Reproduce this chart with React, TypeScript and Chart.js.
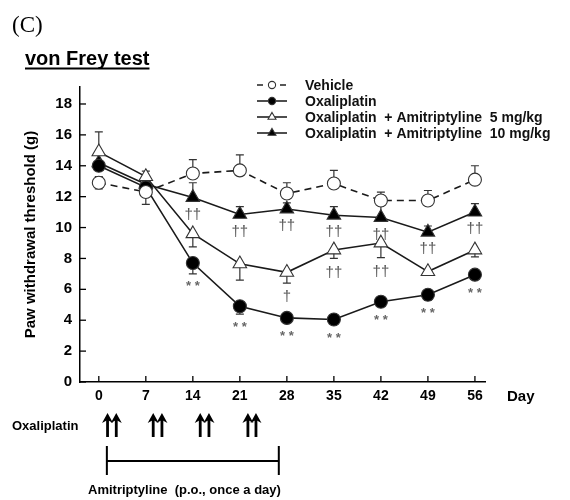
import React, { useEffect, useRef } from 'react';
import { Chart, registerables } from 'chart.js';

Chart.register(...registerables);

const days = [0, 7, 14, 21, 28, 35, 42, 49, 56];
const xTicks = [0, 7, 14, 21, 28, 35, 42, 49, 56];
const yTicks = [0, 2, 4, 6, 8, 10, 12, 14, 16, 18];

const vehicle = [12.9, 12.3, 13.5, 13.7, 12.2, 12.85, 11.75, 11.75, 13.1];
const vehicleErrUp = [0.4, 0, 0.9, 1.0, 0.7, 0.85, 0.55, 0.65, 0.9];
const vehicleErrDown = [0.4, 0.8, 0, 0, 0, 0, 0, 0, 0];

const oxali = [14.0, 12.6, 7.7, 4.9, 4.15, 4.05, 5.2, 5.65, 6.95];
const oxaliErrUp = [0, 0, 0, 0, 0, 0, 0, 0, 0];
const oxaliErrDown = [0.3, 0.3, 0.7, 0.5, 0.2, 0.2, 0.3, 0.35, 0.3];

const ami5 = [14.9, 13.3, 9.6, 7.65, 7.1, 8.55, 9.0, 7.15, 8.55];
const ami5ErrUp = [1.3, 0.35, 0, 0, 0, 0, 0, 0, 0];
const ami5ErrDown = [0, 0, 0.85, 1.05, 0.7, 0.55, 0.95, 0.25, 0.45];

const ami10 = [14.2, 12.8, 11.95, 10.85, 11.2, 10.8, 10.65, 9.7, 11.0];
const ami10ErrUp = [0, 0.3, 0.95, 0.5, 0.4, 0.55, 0.85, 0.4, 0.55];
const ami10ErrDown = [0, 0, 0, 0, 0, 0, 0, 0, 0];

const oxaliMarks = ['', '', '**', '**', '**', '**', '**', '**', '**'];
const ami5Marks = ['', '', '', '', '†', '††', '††', '', ''];
const ami10Marks = ['', '', '††', '††', '††', '††', '††', '††', '††'];

const legendLabels = [
  'Vehicle',
  'Oxaliplatin',
  'Oxaliplatin  + Amitriptyline  5 mg/kg',
  'Oxaliplatin  + Amitriptyline  10 mg/kg',
];

const oxaliDoseDays = [1.3, 2.6, 8.1, 9.4, 15.1, 16.4, 22.2, 23.4];
const amiPeriod = [1.2, 26.8];

const FONT = '"Liberation Sans", Arial, sans-serif';

const series = [
  { data: vehicle, up: vehicleErrUp, down: vehicleErrDown, style: 'circle', fill: '#fff', dash: [7, 5], marks: null as string[] | null },
  { data: oxali, up: oxaliErrUp, down: oxaliErrDown, style: 'circle', fill: '#000', dash: [] as number[], marks: oxaliMarks },
  { data: ami5, up: ami5ErrUp, down: ami5ErrDown, style: 'triangle', fill: '#fff', dash: [] as number[], marks: ami5Marks },
  { data: ami10, up: ami10ErrUp, down: ami10ErrDown, style: 'triangle', fill: '#000', dash: [] as number[], marks: ami10Marks },
];

function drawMarker(ctx: CanvasRenderingContext2D, style: string, fill: string, x: number, y: number, r: number) {
  ctx.save();
  ctx.beginPath();
  if (style === 'circle') {
    ctx.arc(x, y, r, 0, Math.PI * 2);
  } else {
    ctx.moveTo(x, y - r);
    ctx.lineTo(x + r * 0.866, y + r * 0.5);
    ctx.lineTo(x - r * 0.866, y + r * 0.5);
    ctx.closePath();
  }
  ctx.fillStyle = fill;
  ctx.fill();
  ctx.lineWidth = 1.1;
  ctx.strokeStyle = '#333';
  ctx.stroke();
  ctx.restore();
}

function drawArrow(ctx: CanvasRenderingContext2D, x: number, top: number, bottom: number) {
  ctx.save();
  ctx.strokeStyle = '#000';
  ctx.fillStyle = '#000';
  ctx.lineWidth = 2.8;
  ctx.beginPath();
  ctx.moveTo(x, bottom);
  ctx.lineTo(x, top + 6);
  ctx.stroke();
  ctx.beginPath();
  ctx.moveTo(x, top);
  ctx.lineTo(x + 5.5, top + 10);
  ctx.lineTo(x, top + 7);
  ctx.lineTo(x - 5.5, top + 10);
  ctx.closePath();
  ctx.fill();
  ctx.restore();
}

const overlay = {
  id: 'overlay',
  beforeDatasetsDraw(chart: any) {
    const ctx: CanvasRenderingContext2D = chart.ctx;
    const xs = chart.scales.x;
    const ys = chart.scales.y;
    ctx.save();
    ctx.strokeStyle = '#333';
    ctx.lineWidth = 1.2;
    series.forEach((s) => {
      days.forEach((d, i) => {
        const px = xs.getPixelForValue(d);
        const v = s.data[i];
        const ends: number[] = [];
        if (s.up[i] > 0) ends.push(v + s.up[i]);
        if (s.down[i] > 0) ends.push(v - s.down[i]);
        ends.forEach((e) => {
          const py0 = ys.getPixelForValue(v);
          const py1 = ys.getPixelForValue(e);
          ctx.beginPath();
          ctx.moveTo(px, py0);
          ctx.lineTo(px, py1);
          ctx.moveTo(px - 4, py1);
          ctx.lineTo(px + 4, py1);
          ctx.stroke();
        });
      });
    });
    ctx.restore();
  },
  afterDraw(chart: any) {
    const ctx: CanvasRenderingContext2D = chart.ctx;
    const xs = chart.scales.x;
    const ys = chart.scales.y;
    const area = chart.chartArea;
    ctx.save();

    // inward tick marks
    ctx.strokeStyle = '#000';
    ctx.lineWidth = 1.3;
    xTicks.forEach((t) => {
      const px = xs.getPixelForValue(t);
      ctx.beginPath();
      ctx.moveTo(px, area.bottom);
      ctx.lineTo(px, area.bottom - 6);
      ctx.stroke();
    });
    yTicks.forEach((t) => {
      const py = ys.getPixelForValue(t);
      ctx.beginPath();
      ctx.moveTo(area.left, py);
      ctx.lineTo(area.left + 6, py);
      ctx.stroke();
    });

    // significance marks
    ctx.textAlign = 'center';
    ctx.textBaseline = 'middle';
    series.forEach((s, si) => {
      if (!s.marks) return;
      days.forEach((d, i) => {
        const m = s.marks![i];
        if (!m) return;
        const px = xs.getPixelForValue(d);
        const base = ys.getPixelForValue(s.data[i] - s.down[i]);
        const pt = ys.getPixelForValue(s.data[i]);
        let y;
        if (si === 3) y = pt + 17;
        else y = Math.max(base, pt + 6) + (m.includes('*') ? 11 : 14);
        if (m.includes('*')) {
          ctx.font = `bold 13px ${FONT}`;
          ctx.fillStyle = '#666';
          ctx.fillText(m.split('').join(' '), px, y + 2);
        } else {
          ctx.font = `15px ${FONT}`;
          ctx.fillStyle = '#555';
          ctx.fillText(m, px, y);
        }
      });
    });

    // legend
    const rowY = [85, 101, 117, 133];
    series.forEach((s, i) => {
      const y = rowY[i];
      ctx.strokeStyle = '#222';
      ctx.lineWidth = 1.6;
      ctx.beginPath();
      if (i === 0) {
        ctx.moveTo(257, y); ctx.lineTo(263, y);
        ctx.moveTo(280, y); ctx.lineTo(286, y);
      } else {
        ctx.moveTo(257, y); ctx.lineTo(287, y);
      }
      ctx.stroke();
      drawMarker(ctx, s.style, s.fill, 272, y, s.style === 'circle' ? 3.6 : 4.6);
      ctx.fillStyle = '#111';
      ctx.font = `bold 14px ${FONT}`;
      ctx.textAlign = 'left';
      ctx.textBaseline = 'middle';
      ctx.fillText(legendLabels[i], 305, y + 1);
    });

    // "Day" label
    ctx.fillStyle = '#000';
    ctx.font = `bold 15px ${FONT}`;
    ctx.textAlign = 'left';
    ctx.textBaseline = 'middle';
    ctx.fillText('Day', 507, 397);

    // Panel label and title
    ctx.font = `23px "Liberation Serif", "DejaVu Serif", serif`;
    ctx.textBaseline = 'alphabetic';
    ctx.fillText('(C)', 12, 32);
    ctx.font = `bold 20px ${FONT}`;
    ctx.fillText('von Frey test', 25, 65);
    const tw = ctx.measureText('von Frey test').width;
    ctx.fillRect(25, 67.5, tw, 2);

    // dosing schedule
    ctx.font = `bold 13px ${FONT}`;
    ctx.textBaseline = 'middle';
    ctx.fillText('Oxaliplatin', 12, 426);
    oxaliDoseDays.forEach((d) => drawArrow(ctx, xs.getPixelForValue(d), 413, 437));

    const xa = xs.getPixelForValue(amiPeriod[0]);
    const xb = xs.getPixelForValue(amiPeriod[1]);
    ctx.strokeStyle = '#000';
    ctx.lineWidth = 2;
    ctx.beginPath();
    ctx.moveTo(xa, 446); ctx.lineTo(xa, 475);
    ctx.moveTo(xb, 446); ctx.lineTo(xb, 475);
    ctx.moveTo(xa, 461); ctx.lineTo(xb, 461);
    ctx.stroke();
    ctx.fillText('Amitriptyline  (p.o., once a day)', 88, 490);

    ctx.restore();
  },
};

export default function App() {
  const ref = useRef<HTMLCanvasElement | null>(null);
  useEffect(() => {
    if (!ref.current) return;
    Chart.defaults.font.family = FONT;
    const chart = new Chart(ref.current, {
      type: 'line',
      data: {
        datasets: series.map((s, i) => ({
          label: legendLabels[i],
          data: days.map((d, j) => ({ x: d, y: s.data[j] })),
          borderColor: '#1a1a1a',
          borderWidth: 1.6,
          borderDash: s.dash,
          tension: 0,
          pointStyle: s.style as any,
          pointRadius: s.style === 'circle' ? 6.5 : 7.8,
          pointBackgroundColor: s.fill,
          pointBorderColor: '#333',
          pointBorderWidth: 1.1,
          fill: false,
        })),
      },
      options: {
        animation: false,
        responsive: false,
        layout: { padding: { top: 87, right: 85, left: 0, bottom: 0 } },
        plugins: { legend: { display: false }, tooltip: { enabled: false } },
        scales: {
          x: {
            type: 'linear',
            min: -2.8,
            max: 57.5,
            afterBuildTicks: (s: any) => { s.ticks = xTicks.map((v) => ({ value: v })); },
            afterFit: (s: any) => { s.height = 118; },
            grid: { display: true, drawOnChartArea: false, drawTicks: false },
            border: { display: true, color: '#000', width: 1.5 },
            ticks: { color: '#000', font: { size: 14, weight: 'bold' }, padding: 6, maxRotation: 0, autoSkip: false },
          },
          y: {
            type: 'linear',
            min: 0,
            max: 19.1,
            afterBuildTicks: (s: any) => { s.ticks = yTicks.map((v) => ({ value: v })); },
            afterFit: (s: any) => { s.width = 80; },
            grid: { display: true, drawOnChartArea: false, drawTicks: false },
            border: { display: true, color: '#000', width: 1.5 },
            ticks: { color: '#000', font: { size: 15, weight: 'bold' }, padding: 8 },
            title: {
              display: true,
              text: 'Paw withdrawal threshold (g)',
              color: '#000',
              font: { size: 15, weight: 'bold' },
              padding: { top: 22, bottom: 0 },
            },
          },
        },
      },
      plugins: [overlay],
    });
    return () => chart.destroy();
  }, []);
  return (
    <div style={{ position: 'fixed', left: 0, top: 0, width: 570, height: 500, background: '#fff' }}>
      <canvas ref={ref} width={570} height={500} />
    </div>
  );
}
